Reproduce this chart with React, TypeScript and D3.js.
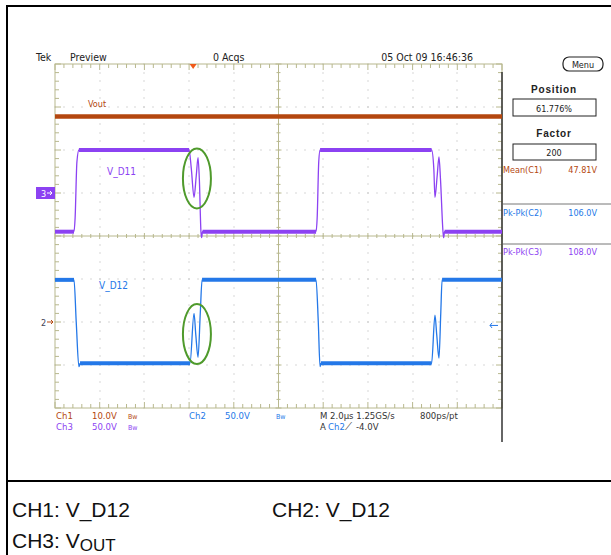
import * as d3 from 'd3'

// horizontal: 2.0 us/div over 10 divisions, vertical: 8 divisions
const timeDomain: [number, number] = [0, 20]
const divDomain: [number, number] = [-4, 4]

// Ch1 (Vout), 10 V/div
const ch1Time = [0, 20]
const ch1Volts = [47.81, 47.81]

// Ch2 (V_D12), 50 V/div
const ch2Time = [0, 0.85, 0.95, 1.07, 1.12, 6.04, 6.22, 6.3, 6.4, 6.5, 6.58, 11.68, 11.78, 11.86, 11.9, 16.85, 17.0, 17.08, 17.18, 17.26, 17.32, 20]
const ch2Volts = [49, 49, 0, -52, -48, -48, 10, -15, -41, 10, 49, 49, 0, -52, -48, -48, 8, -15, -42, 10, 49, 49]

// Ch3 (V_D11), 50 V/div
const ch3Time = [0, 0.85, 0.9, 0.98, 1.07, 6.0, 6.1, 6.22, 6.32, 6.4, 6.46, 6.53, 6.56, 6.6, 11.68, 11.73, 11.8, 11.86, 16.85, 16.95, 17.0, 17.1, 17.18, 17.25, 17.36, 17.39, 17.43, 20]
const ch3Volts = [-45, -45, -29, 36, 50, 50, 28, -5, 20, 41, 15, -45, -52, -45, -45, -29, 36, 50, 50, 28, -5, 20, 42, 15, -45, -52, -45, -45]

// channel settings: V/div and ground position in divisions from center
const chVoltsPerDiv = [10, 50, 50]
const chGroundDiv = [-2, -2, 1]

// green ellipses around the ringing (time, volts, channel index)
const ringTime = [6.35, 6.35]
const ringVolts = [17, -14]
const ringChannel = [2, 1]

// measurement readouts
const measNames = ['Mean(C1)', 'Pk-Pk(C2)', 'Pk-Pk(C3)']
const measValues = ['47.81V', '106.0V', '108.0V']

const trigTime = 6.18
const trigLevel = -4

const ORANGE = '#b4470f'
const BLUE = '#2478e8'
const PURPLE = '#8c42f2'
const GREEN = '#4f9a2c'
const KHAKI = '#b8b88e'
const NARROW = "'Liberation Sans Narrow', 'DejaVu Sans Condensed', 'Arial Narrow', sans-serif"
const SANS = "'Liberation Sans', Arial, Helvetica, sans-serif"

const gx0 = 55, gx1 = 502, gy0 = 64, gy1 = 408

export default function App() {
  const x = d3.scaleLinear().domain(timeDomain).range([gx0, gx1])
  const yd = d3.scaleLinear().domain(divDomain).range([gy1, gy0])
  const xd = d3.scaleLinear().domain([0, 10]).range([gx0, gx1])
  const chY = (ch: number) => (v: number) => yd(chGroundDiv[ch] + v / chVoltsPerDiv[ch])

  const series = [
    { t: ch1Time, v: ch1Volts, color: ORANGE, ch: 0 },
    { t: ch3Time, v: ch3Volts, color: PURPLE, ch: 2 },
    { t: ch2Time, v: ch2Volts, color: BLUE, ch: 1 },
  ]

  const minor = d3.range(0, 10.001, 0.2)
  const minorV = d3.range(-4, 4.001, 0.2)
  const isMajor = (d: number) => Math.abs(d - Math.round(d)) < 1e-6

  // dotted grid
  const dots: [number, number][] = []
  d3.range(1, 10).filter(k => k !== 5).forEach(k => {
    minorV.forEach(v => dots.push([xd(k), yd(v)]))
  })
  d3.range(-3, 4).filter(k => k !== 0).forEach(k => {
    minor.forEach(h => dots.push([xd(h), yd(k)]))
  })

  const cx = xd(5), cy = yd(0)

  return (
    <svg width={611} height={555} style={{ position: 'absolute', left: 0, top: 0, background: '#fff' }}>
      {/* table borders */}
      <line x1={6} x2={611} y1={6} y2={6} stroke="#000" strokeWidth={2} />
      <line x1={7} x2={7} y1={6} y2={555} stroke="#000" strokeWidth={2} />
      <line x1={6} x2={611} y1={481} y2={481} stroke="#000" strokeWidth={2} />

      {/* header */}
      <g fontFamily={NARROW} fontSize={10.5} fill="#222">
        <text x={36} y={61}>Tek</text>
        <text x={70} y={61}>Preview</text>
        <text x={213} y={61}>0 Acqs</text>
        <text x={473} y={61} textAnchor="end">05 Oct 09 16:46:36</text>
      </g>

      {/* grid dots */}
      {dots.map((d, i) => (
        <rect key={i} x={Math.round(d[0]) - 0.5} y={Math.round(d[1]) - 0.5} width={1} height={1} fill="#b0b0b0" />
      ))}

      {/* frame and center lines */}
      <rect x={gx0} y={gy0} width={gx1 - gx0} height={gy1 - gy0} fill="none" stroke={KHAKI} strokeWidth={1} />
      <line x1={cx} x2={cx} y1={gy0} y2={gy1} stroke={KHAKI} />
      <line x1={gx0} x2={gx1} y1={cy} y2={cy} stroke={KHAKI} />
      <g stroke={KHAKI} strokeWidth={1}>
        {minor.map((h, i) => {
          const len = isMajor(h) ? 6 : 4
          return (
            <g key={'h' + i}>
              <line x1={xd(h)} x2={xd(h)} y1={gy0} y2={gy0 + len} />
              <line x1={xd(h)} x2={xd(h)} y1={gy1} y2={gy1 - len} />
              <line x1={xd(h)} x2={xd(h)} y1={cy - len / 2} y2={cy + len / 2} />
            </g>
          )
        })}
        {minorV.map((v, i) => {
          const len = isMajor(v) ? 6 : 4
          return (
            <g key={'v' + i}>
              <line x1={gx0} x2={gx0 + len} y1={yd(v)} y2={yd(v)} />
              <line x1={gx1} x2={gx1 - len} y1={yd(v)} y2={yd(v)} />
              <line x1={cx - len / 2} x2={cx + len / 2} y1={yd(v)} y2={yd(v)} />
            </g>
          )
        })}
      </g>
      <line x1={gx1} x2={gx1} y1={72} y2={442} stroke="#333" strokeWidth={1.5} />

      {/* waveforms */}
      {series.map((s, si) => {
        const y = chY(s.ch)
        const pts: [number, number][] = s.t.map((t, i) => [x(t), y(s.v[i])])
        const line = d3.line().curve(d3.curveMonotoneX)
        const flats: [number, number][][] = []
        for (let i = 0; i < s.t.length - 1; i++) {
          if (s.v[i] === s.v[i + 1]) flats.push([pts[i], pts[i + 1]])
        }
        return (
          <g key={si}>
            <path d={line(pts) || ''} fill="none" stroke={s.color} strokeWidth={1.3} strokeLinejoin="round" />
            {flats.map((f, i) => (
              <path key={i} d={d3.line()(f) || ''} fill="none" stroke={s.color} strokeWidth={si === 0 ? 4.5 : 4} />
            ))}
          </g>
        )
      })}

      {/* channel labels */}
      <text x={88} y={107} fontFamily={NARROW} fontSize={9} fill={ORANGE}>Vout</text>
      <text x={107} y={175} fontFamily={NARROW} fontSize={10} fill={PURPLE}>V_D11</text>
      <text x={99} y={289} fontFamily={NARROW} fontSize={10} fill={BLUE}>V_D12</text>

      {/* ringing ellipses */}
      {ringTime.map((t, i) => (
        <ellipse key={i} cx={x(t)} cy={chY(ringChannel[i])(ringVolts[i])} rx={14} ry={30}
          fill="none" stroke={GREEN} strokeWidth={2} />
      ))}

      {/* ground markers */}
      <rect x={36} y={chY(2)(0) - 6} width={19} height={12} fill={PURPLE} />
      <text x={41} y={chY(2)(0) + 3.5} fontFamily={NARROW} fontSize={9} fill="#fff">3</text>
      <path d={`M47,${chY(2)(0)} h5 M50,${chY(2)(0) - 2} l2,2 l-2,2`} stroke="#fff" fill="none" />
      <text x={41} y={chY(1)(0) + 3.5} fontFamily={NARROW} fontSize={9} fill="#445">2</text>
      <path d={`M47,${chY(1)(0)} h6 M51,${chY(1)(0) - 2} l2,2 l-2,2`} stroke={ORANGE} fill="none" />

      {/* trigger markers */}
      <path d={`M${x(trigTime) - 3.5},${gy0} h7 l-3.5,5 z`} fill="#f05a1a" />
      <path d={`M${gx1 - 12},${chY(1)(trigLevel)} h8 M${gx1 - 10},${chY(1)(trigLevel) - 2.5} l-2,2.5 l2,2.5`} stroke={BLUE} fill="none" />

      {/* right panel */}
      <rect x={563} y={57} width={40} height={14} rx={6} fill="none" stroke="#222" strokeWidth={1.2} />
      <text x={583} y={67.5} textAnchor="middle" fontFamily={NARROW} fontSize={9} fill="#222">Menu</text>
      <g fontFamily={SANS} fill="#222" textAnchor="middle">
        <text x={554} y={93} fontSize={10} fontWeight="bold" letterSpacing={0.8}>Position</text>
        <rect x={513} y={99} width={83} height={17} fill="none" stroke="#222" />
        <text x={554} y={111.5} fontSize={9} fontFamily={NARROW}>61.776%</text>
        <text x={554} y={137} fontSize={10} fontWeight="bold" letterSpacing={0.8}>Factor</text>
        <rect x={513} y={144} width={83} height={16} fill="none" stroke="#222" />
        <text x={554} y={156} fontSize={9} fontFamily={NARROW}>200</text>
      </g>
      {measNames.map((n, i) => {
        const yy = [173, 216, 255][i]
        const c = [ORANGE, BLUE, PURPLE][i]
        return (
          <g key={n} fontFamily={NARROW} fontSize={9} fill={c}>
            <text x={503} y={yy}>{n}</text>
            <text x={597} y={yy} textAnchor="end">{measValues[i]}</text>
          </g>
        )
      })}
      <line x1={503} x2={611} y1={204} y2={204} stroke="#777" />
      <line x1={503} x2={611} y1={244} y2={244} stroke="#777" />

      {/* status rows */}
      <g fontFamily={NARROW} fontSize={9.5}>
        <text x={56} y={419} fill={ORANGE}>Ch1</text>
        <text x={92} y={419} fill={ORANGE}>10.0V</text>
        <text x={128} y={419} fill={ORANGE} fontSize={7}>Bw</text>
        <text x={189} y={419} fill={BLUE}>Ch2</text>
        <text x={225} y={419} fill={BLUE}>50.0V</text>
        <text x={276} y={419} fill={BLUE} fontSize={7}>Bw</text>
        <text x={320} y={419} fill="#333">M 2.0µs 1.25GS/s</text>
        <text x={420} y={419} fill="#333">800ps/pt</text>
        <text x={56} y={430} fill={PURPLE}>Ch3</text>
        <text x={92} y={430} fill={PURPLE}>50.0V</text>
        <text x={128} y={430} fill={PURPLE} fontSize={7}>Bw</text>
        <text x={320} y={430} fill="#333">A</text>
        <text x={328} y={430} fill={BLUE}>Ch2</text>
        <text x={345} y={430} fill="#333">⟋</text>
        <text x={356} y={430} fill="#333">-4.0V</text>
      </g>

      {/* caption */}
      <g fontFamily={SANS} fontSize={21} fill="#111">
        <text x={12} y={517}>CH1: V_D12</text>
        <text x={272} y={517}>CH2: V_D12</text>
        <text x={12} y={548}>CH3: V<tspan fontSize={17} dy={3}>OUT</tspan></text>
      </g>
    </svg>
  )
}
